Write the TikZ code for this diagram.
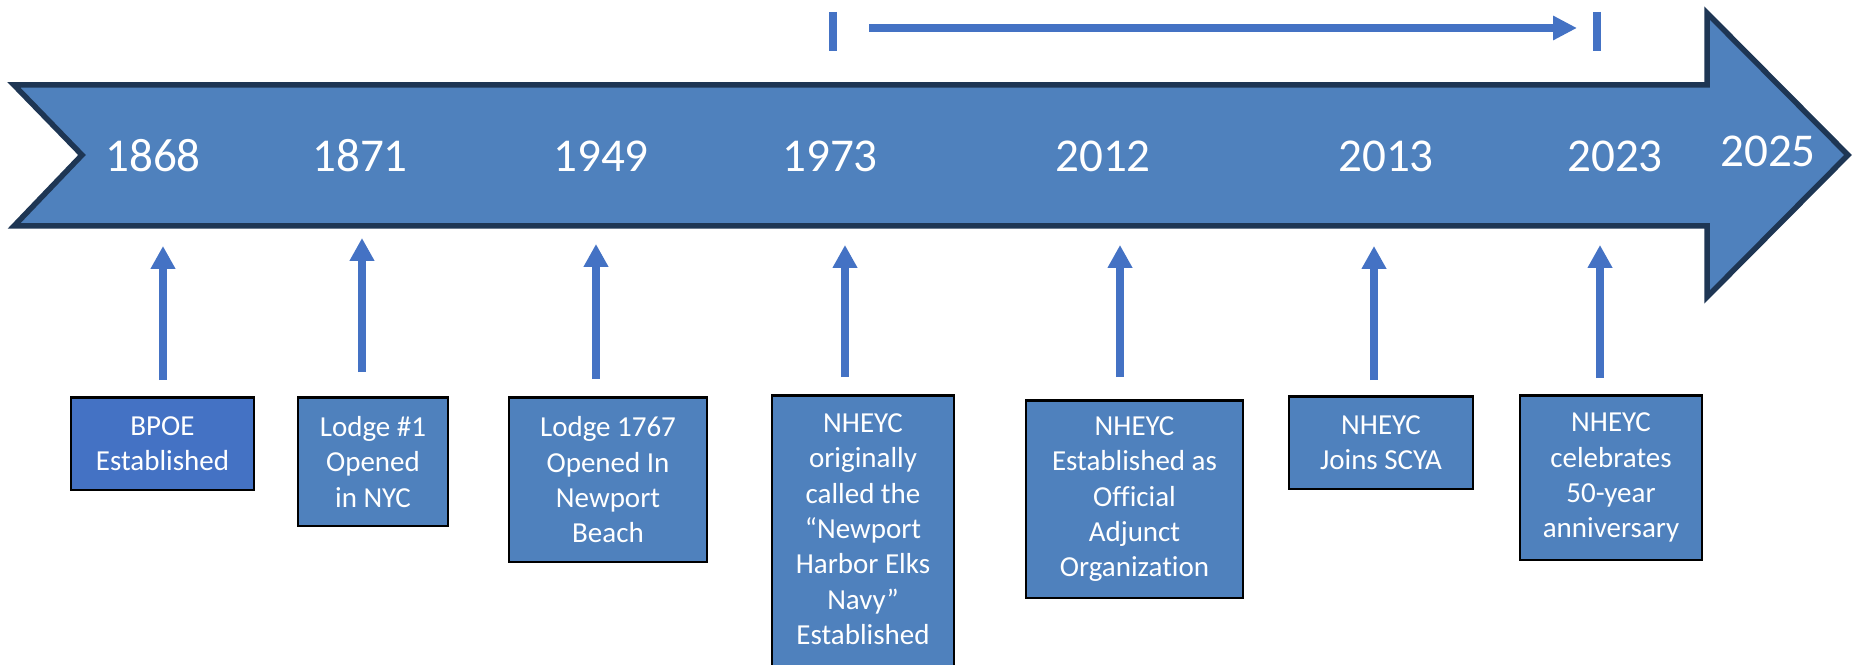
\documentclass[tikz,border=0pt]{standalone}
\usepackage{fontspec}
\setmainfont{Carlito}[Ligatures={TeX,NoCommon}]
\usetikzlibrary{arrows.meta}

\definecolor{spinefill}{RGB}{79,129,189}
\definecolor{spineedge}{RGB}{30,54,84}
\definecolor{arrowblue}{RGB}{68,114,196}

\tikzset{
  year/.style={text=white, anchor=base, font=\fontsize{26.8}{32}\selectfont},
  event/.style={draw=black, line width=0.05cm, fill=spinefill, text=white,
    align=center, anchor=north, inner sep=0pt,
    font=\fontsize{16.5}{20.1}\selectfont},
  uparrow/.style={draw=arrowblue, line width=0.16cm,
    -{Triangle[length=0.46cm,width=0.47cm]}},
  tickmark/.style={draw=arrowblue, line width=0.16cm}
}

\begin{document}
\begin{tikzpicture}[x=0.02cm,y=-0.02cm]
      \clip (0,0) rectangle (1858,665);
      % the time line
      \draw[fill=spinefill,draw=spineedge,line width=0.11cm]
        (14,85) --
        (1707,85) --
        (1707,13) --
        (1848,155) --
        (1707,297) --
        (1707,226) --
        (14,226) --
        (82,155) -- cycle;
      \node[year] (y1868) at (153,172) {1868};
      \node[year] (y1871) at (360,172) {1871};
      \node[year] (y1949) at (601,172) {1949};
      \node[year] (y1973) at (830,172) {1973};
      \node[year] (y2012) at (1103,172) {2012};
      \node[year] (y2013) at (1386,172) {2013};
      \node[year] (y2023) at (1615,172) {2023};
      \node[year] (y2025) at (1768,167) {2025};
      % fifty years span
      \coordinate (spanL) at (833,12);
      \coordinate (spanR) at (1597,12);
      \coordinate (spanA) at (869,28);
      \coordinate (spanB) at (1577,28);
      \draw[tickmark] (spanL) -- ++(0,39);
      \draw[tickmark] (spanR) -- ++(0,39);
      \draw[draw=arrowblue,line width=0.16cm,-{Triangle[length=0.48cm,width=0.46cm]}]
        (spanA) -- (spanB);
      % events
      \node[event,fill=arrowblue,minimum width=3.66cm,minimum height=1.86cm]
        (bpoe) at (162.5,396) {BPOE\\Established};
      \node[event,minimum width=3.0cm,minimum height=2.58cm]
        (lodgeone) at (373,396) {Lodge \#1\\Opened\\in NYC};
      \node[event,minimum width=3.96cm,minimum height=3.30cm]
        (lodgenb) at (608,396) {Lodge 1767\\Opened In\\Newport\\Beach};
      \node[event,minimum width=3.64cm,minimum height=6.06cm]
        (navy) at (863,394) {NHEYC\\originally\\called the\\“Newport\\Harbor Elks\\Navy”\\Established\\~};
      \node[event,minimum width=4.34cm,minimum height=3.96cm]
        (adjunct) at (1134.5,399) {NHEYC\\Established as\\Official\\Adjunct\\Organization};
      \node[event,minimum width=3.68cm,minimum height=1.86cm]
        (scya) at (1381,395) {NHEYC\\Joins SCYA};
      \node[event,minimum width=3.64cm,minimum height=3.30cm]
        (fifty) at (1611,394) {NHEYC\\celebrates\\50-year\\anniversary};
      % pointers
      \foreach \i/\x/\t/\f in {1/163/246/380, 2/362/238/372, 3/596/244/379,
          4/845/245/377, 5/1120/245/377, 6/1374/246/380, 7/1600/245/378} {
        \coordinate (foot\i) at (\x,\f);
        \coordinate (tip\i) at (\x,\t);
        \draw[uparrow] (foot\i) -- (tip\i);
      }
    \end{tikzpicture}
\end{document}
